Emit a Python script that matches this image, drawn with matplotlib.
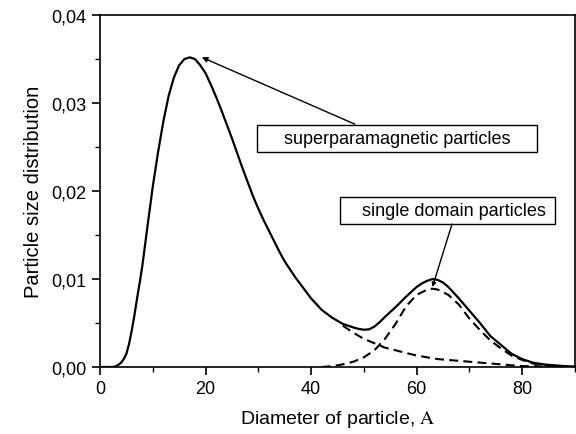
import matplotlib
matplotlib.use("Agg")
import matplotlib.pyplot as plt
from matplotlib.patches import Rectangle
from matplotlib.ticker import MultipleLocator, FuncFormatter

plt.rcParams['font.family'] = ['Liberation Sans', 'DejaVu Sans']
plt.rcParams['mathtext.fontset'] = 'stix'

# Total distribution (solid)
total_x = [0, 2, 2.5, 3, 3.5, 4, 4.5, 5, 5.5, 6, 6.5, 7, 7.5, 8, 9, 10, 11, 12, 13,
           14, 15, 16, 17, 18, 19, 20, 21, 22, 23, 24, 25, 26, 27, 28, 29, 30, 31,
           32, 33, 34, 35, 36, 37, 38, 39, 40, 42, 44, 46, 47, 48, 49, 50, 51, 52,
           53, 54, 56, 58, 60, 61, 62, 63, 64, 65, 66, 68, 70, 72, 74, 76, 78, 80,
           82, 84, 86, 88, 90]
total_y = [0, 0, 0.00001, 0.00008, 0.00025, 0.0005, 0.0009, 0.0015, 0.0026, 0.0041,
           0.0058, 0.0077, 0.0095, 0.0114, 0.0160, 0.0205, 0.0244, 0.0279, 0.0308,
           0.0329, 0.0343, 0.0350, 0.0352, 0.0350, 0.0343, 0.0334, 0.0321, 0.0307,
           0.0292, 0.0276, 0.0260, 0.0243, 0.0226, 0.0210, 0.0194, 0.0180, 0.0167,
           0.0155, 0.0143, 0.0131, 0.0120, 0.0111, 0.0102, 0.0094, 0.0086, 0.0078,
           0.0065, 0.0056, 0.0049, 0.0047, 0.0045, 0.00433, 0.00424, 0.00428, 0.0046,
           0.0051, 0.0057, 0.0068, 0.0080, 0.0091, 0.0095, 0.0098, 0.0100, 0.0099,
           0.0096, 0.0091, 0.0078, 0.0064, 0.0050, 0.0035, 0.0025, 0.0015, 0.0009,
           0.0005, 0.0003, 0.0002, 0.0001, 0.00005]

# Superparamagnetic component tail (dashed)
sp_x = [46, 48, 50, 52, 54, 56, 58, 60, 62, 64, 66, 68, 70, 72, 74, 76, 78, 80,
        82, 84, 86, 88, 90]
sp_y = [0.0047, 0.0039, 0.0032, 0.0027, 0.0022, 0.0019, 0.0016, 0.0013, 0.0011,
        0.0009, 0.0008, 0.0007, 0.0006, 0.0005, 0.0004, 0.0003, 0.0002, 0.0001,
        0.0001, 0.00005, 0.00005, 0.00003, 0.00002]

# Single domain component (dashed)
sd_x = [42, 44, 46, 48, 50, 52, 54, 56, 58, 60, 62, 63, 64, 66, 68, 70, 72, 74,
        76, 78, 80, 82, 84, 86, 88, 90]
sd_y = [0.0, 0.0001, 0.0003, 0.0006, 0.0011, 0.0019, 0.0032, 0.0049, 0.0069,
        0.0082, 0.0088, 0.0089, 0.0088, 0.0082, 0.0071, 0.0055, 0.0042, 0.0030,
        0.0021, 0.0013, 0.0008, 0.0004, 0.0002, 0.0001, 0.00005, 0.0]

fig = plt.figure(figsize=(5.76, 4.35), dpi=100)
ax = fig.add_axes([0.1736, 0.154, 0.8246, 0.809])

ax.plot(total_x, total_y, color='black', lw=1.6, solid_joinstyle='round')
ax.plot(sp_x, sp_y, color='black', lw=1.5, dashes=(4.3, 2.5))
ax.plot(sd_x, sd_y, color='black', lw=1.5, dashes=(4.3, 2.5))

ax.set_xlim(0, 90)
ax.set_ylim(0, 0.04)
ax.xaxis.set_major_locator(MultipleLocator(20))
ax.xaxis.set_minor_locator(MultipleLocator(10))
ax.yaxis.set_major_locator(MultipleLocator(0.01))
ax.yaxis.set_minor_locator(MultipleLocator(0.005))
ax.yaxis.set_major_formatter(FuncFormatter(lambda v, p: f"{v:.2f}".replace('.', ',')))
ax.tick_params(which='major', direction='out', length=6, width=1.2, labelsize=13)
ax.tick_params(which='minor', direction='out', length=3.5, width=1.0)
for s in ax.spines.values():
    s.set_linewidth(1.2)

ax.set_xlabel("Diameter of particle, $\\mathrm{A}$", fontsize=14, labelpad=8)
ax.set_ylabel("Particle size distribution", fontsize=14.5, labelpad=6)

# Label boxes
ax.add_patch(Rectangle((29.7, 0.02447), 53.1, 0.00306, fill=False, lw=1.0,
                       edgecolor='black', zorder=3))
ax.text(56.3, 0.0260, "superparamagnetic particles", ha='center', va='center',
        fontsize=13)
ax.add_patch(Rectangle((45.5, 0.01625), 40.8, 0.0031, fill=False, lw=1.0,
                       edgecolor='black', zorder=3))
ax.text(67.0, 0.0178, "single domain particles", ha='center', va='center',
        fontsize=13)

ax.annotate("", xy=(19.3, 0.0352), xytext=(48.3, 0.0276),
            arrowprops=dict(arrowstyle='-|>', color='black', lw=1.0,
                            mutation_scale=8, shrinkA=0, shrinkB=0))
ax.annotate("", xy=(63.0, 0.0091), xytext=(66.7, 0.01625),
            arrowprops=dict(arrowstyle='-|>', color='black', lw=1.0,
                            mutation_scale=6, shrinkA=0, shrinkB=0))

fig.savefig("out.png", dpi=100)
